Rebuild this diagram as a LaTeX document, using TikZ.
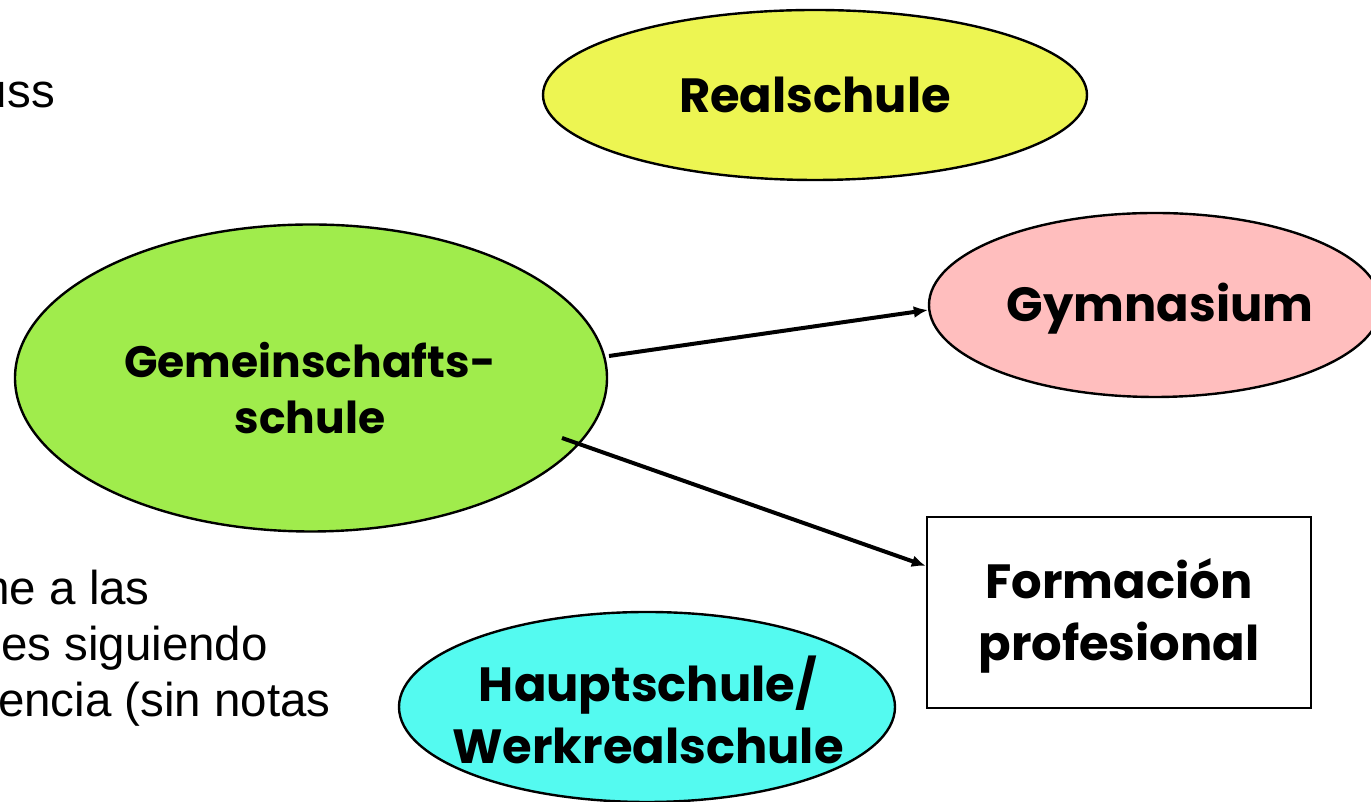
\documentclass[tikz,border=0pt]{standalone}
\usepackage{fontspec}
\setmainfont{Liberation Sans}
\newfontfamily\headfont{Poppins}
\usetikzlibrary{shapes.geometric,arrows.meta}
\definecolor{realc}{RGB}{237,245,82}
\definecolor{gymc}{RGB}{255,190,190}
\definecolor{gemc}{RGB}{160,236,76}
\definecolor{hauc}{RGB}{84,250,240}
\begin{document}
\begin{tikzpicture}[x=1pt,y=1pt,
  oval/.style={draw=black,line width=2.4pt,ellipse,inner sep=0pt},
  lbl/.style={font=\headfont\bfseries\fontsize{48}{62}\selectfont,align=center,inner sep=0pt},
  body/.style={font=\fontsize{47.5}{56}\selectfont,anchor=base east,inner sep=0pt},
  conn/.style={line width=4pt,-{Latex[length=14pt,width=12pt]}}]
\useasboundingbox (0,0) rectangle (1371,802);
\clip (0,0) rectangle (1371,802);
\fill[white] (0,0) rectangle (1371,802);

\node[oval,fill=realc,minimum width=544pt,minimum height=170pt] (real) at (815,707) {};
\node[lbl] (realt) at (815,707) {Realschule};
\node[oval,fill=gymc,minimum width=452pt,minimum height=184pt] (gym) at (1155,497) {};
\node[lbl] (gymt) at (1160,493) {Gymnasium};
\node[oval,fill=gemc,minimum width=592pt,minimum height=307pt] (gem) at (311,424) {};
\node[lbl,font=\headfont\bfseries\fontsize{44}{56}\selectfont] (gemt) at (310,414) {Gemeinschafts-\\schule};
\node[oval,fill=hauc,minimum width=496pt,minimum height=190pt] (hau) at (647,95) {};
\node[lbl] (haut) at (648,92) {Hauptschule/\\Werkrealschule};
\node[draw=black,line width=2.4pt,fill=white,minimum width=384pt,minimum height=191pt] (form) at (1119,189.5) {};
\node[lbl] (formt) at (1119,186) {Formación\\profesional};

\node[body] (t0) at (55,694) {uss};
\node[body] (t1) at (150,197) {me a las};
\node[body] (t2) at (268,141) {es siguiendo};
\node[body] (t3) at (331,85) {encia (sin notas};

\coordinate (a1) at (609,446);
\coordinate (a2) at (562,364);
\draw[conn] (a1) -- ([yshift=-5pt]gym.west);
\draw[conn] (a2) -- ([yshift=46.5pt]form.west);
\end{tikzpicture}
\end{document}
